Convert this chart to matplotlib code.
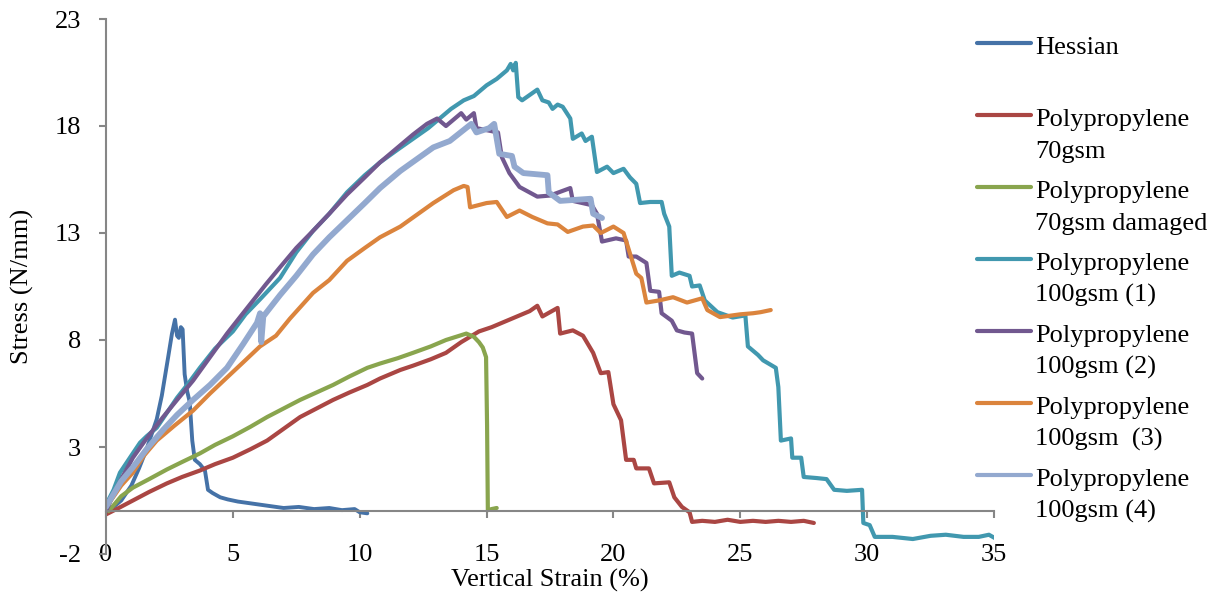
import matplotlib
matplotlib.use("Agg")
import matplotlib.pyplot as plt
from matplotlib.lines import Line2D

plt.rcParams['font.family'] = ['Liberation Serif', 'DejaVu Serif']
plt.rcParams['font.size'] = 19
plt.rcParams['axes.unicode_minus'] = False

# series (strain %, stress N/mm)
hessian_x = [0.0, 0.3, 0.6, 1.0, 1.3, 1.6, 2.0, 2.2, 2.45, 2.6, 2.72, 2.8, 2.87, 2.95, 3.02, 3.1, 3.2, 3.3,
             3.4, 3.5, 3.7, 3.9, 4.02, 4.2, 4.5, 4.8, 5.2, 5.8, 6.4, 7.0, 7.6, 8.2, 8.8, 9.3, 9.8, 10.0, 10.3]
hessian_y = [0.0, 0.2, 0.5, 1.2, 2.0, 2.9, 4.3, 5.4, 7.2, 8.3, 8.95, 8.2, 8.1, 8.6, 8.5, 6.4, 5.6, 5.1,
             3.3, 2.4, 2.2, 1.9, 1.0, 0.85, 0.65, 0.55, 0.45, 0.35, 0.25, 0.15, 0.2, 0.1, 0.15, 0.05, 0.1, -0.05, -0.1]

pp70_x = [0.0, 0.5, 1.06, 1.7, 2.4, 3.0, 3.7, 4.3, 5.0, 5.7, 6.35, 7.0, 7.65, 8.3, 8.95, 9.6, 10.3, 10.8,
          11.6, 12.1, 12.8, 13.4, 14.0, 14.7, 15.2, 15.8, 16.3, 16.7, 17.0, 17.2, 17.5, 17.8, 17.9, 18.4,
          18.8, 19.2, 19.5, 19.8, 20.0, 20.3, 20.5, 20.8, 20.9, 21.4, 21.6, 22.2, 22.4, 22.7, 23.0, 23.1,
          23.5, 24.0, 24.5, 25.0, 25.5, 26.0, 26.5, 27.0, 27.5, 27.9]
pp70_y = [-0.15, 0.15, 0.5, 0.9, 1.3, 1.6, 1.9, 2.2, 2.5, 2.9, 3.3, 3.85, 4.4, 4.8, 5.2, 5.55, 5.9, 6.2,
          6.6, 6.8, 7.1, 7.4, 7.9, 8.4, 8.6, 8.9, 9.15, 9.35, 9.6, 9.1, 9.3, 9.5, 8.3, 8.45,
          8.2, 7.4, 6.45, 6.5, 5.0, 4.25, 2.4, 2.4, 2.0, 2.0, 1.3, 1.35, 0.65, 0.2, -0.05, -0.5,
          -0.45, -0.5, -0.4, -0.5, -0.45, -0.5, -0.45, -0.5, -0.45, -0.55]

pp70d_x = [0.1, 0.28, 0.6, 1.06, 1.7, 2.4, 3.0, 3.7, 4.3, 5.0, 5.7, 6.35, 7.0, 7.65, 8.3, 8.95, 9.6, 10.3,
           10.8, 11.5, 12.1, 12.8, 13.4, 13.8, 14.2, 14.5, 14.7, 14.85, 14.98, 15.02, 15.05, 15.2, 15.4]
pp70d_y = [0.0, 0.25, 0.7, 1.1, 1.5, 1.95, 2.3, 2.7, 3.1, 3.5, 3.95, 4.4, 4.8, 5.2, 5.55, 5.9, 6.3, 6.7,
           6.9, 7.15, 7.4, 7.7, 8.0, 8.15, 8.3, 8.15, 7.9, 7.65, 7.2, 4.0, 0.05, 0.1, 0.15]

pp100a_x = [0.0, 0.3, 0.55, 1.0, 1.34, 1.6, 2.0, 2.4, 2.8, 3.2, 3.7, 4.3, 5.0, 5.5, 6.07, 6.86, 7.5, 8.16,
            8.8, 9.5, 10.2, 10.8, 11.5, 12.1, 12.7, 13.2, 13.6, 14.1, 14.5, 15.0, 15.4, 15.8, 15.95, 16.05,
            16.15, 16.25, 16.4, 17.0, 17.2, 17.45, 17.6, 17.8, 18.0, 18.3, 18.4, 18.75, 18.9, 19.15, 19.35,
            19.75, 20.0, 20.4, 20.65, 20.9, 21.05, 21.45, 21.9, 22.0, 22.2, 22.3, 22.6, 23.0, 23.1, 23.4,
            23.6, 24.1, 24.7, 25.2, 25.3, 25.7, 25.9, 26.4, 26.5, 26.6, 27.0, 27.05, 27.4, 27.5, 28.0,
            28.4, 28.7, 29.2, 29.8, 29.85, 30.1, 30.3, 31.0, 31.8, 32.5, 33.1, 33.8, 34.4, 34.8, 35.1]
pp100a_y = [0.3, 1.0, 1.8, 2.6, 3.2, 3.5, 3.9, 4.6, 5.3, 5.9, 6.7, 7.6, 8.4, 9.2, 9.9, 10.9, 12.1, 13.1,
            13.9, 14.9, 15.7, 16.3, 16.9, 17.4, 17.9, 18.4, 18.8, 19.2, 19.4, 19.9, 20.2, 20.6, 20.9, 20.6,
            20.95, 19.35, 19.2, 19.7, 19.2, 19.1, 18.8, 19.0, 18.9, 18.35, 17.4, 17.65, 17.3, 17.5, 15.85,
            16.1, 15.8, 16.0, 15.6, 15.3, 14.4, 14.45, 14.45, 13.9, 13.3, 11.0, 11.15, 11.0, 10.5, 10.55,
            9.85, 9.3, 9.05, 9.15, 7.7, 7.3, 7.05, 6.7, 5.8, 3.3, 3.4, 2.5, 2.5, 1.6, 1.55,
            1.5, 1.0, 0.95, 1.0, -0.55, -0.65, -1.2, -1.2, -1.3, -1.15, -1.1, -1.2, -1.2, -1.1, -1.3]

pp100b_x = [0.0, 0.3, 0.6, 1.06, 1.6, 2.25, 2.8, 3.43, 4.1, 4.77, 5.3, 5.8, 6.3, 6.86, 7.5, 8.16, 8.8,
            9.5, 10.2, 10.8, 11.5, 12.1, 12.65, 13.05, 13.4, 14.0, 14.2, 14.5, 14.6, 15.45, 15.6, 15.9,
            16.3, 17.0, 17.5, 18.3, 18.4, 19.15, 19.35, 19.55, 20.1, 20.5, 20.6, 20.9, 21.3, 21.45, 21.8,
            21.9, 22.3, 22.5, 22.8, 23.1, 23.3, 23.5]
pp100b_y = [0.0, 0.8, 1.5, 2.5, 3.4, 4.4, 5.2, 6.1, 7.2, 8.3, 9.1, 9.85, 10.6, 11.4, 12.3, 13.1, 13.9,
            14.8, 15.6, 16.3, 17.0, 17.6, 18.1, 18.35, 18.0, 18.6, 18.3, 18.6, 17.9, 17.7, 16.55, 15.8,
            15.15, 14.7, 14.75, 15.1, 14.5, 14.3, 13.9, 12.6, 12.75, 12.65, 11.9, 11.9, 11.6, 10.3, 10.25,
            9.25, 8.9, 8.45, 8.35, 8.3, 6.45, 6.2]

pp100c_x = [0.0, 0.28, 0.6, 1.06, 1.5, 2.0, 2.7, 3.43, 4.1, 4.77, 5.4, 6.07, 6.7, 7.25, 8.16, 8.8, 9.5,
            10.2, 10.8, 11.6, 12.9, 13.7, 14.1, 14.25, 14.35, 15.0, 15.4, 15.8, 16.3, 16.8, 17.4, 17.8,
            18.2, 18.8, 19.2, 19.5, 20.0, 20.4, 20.65, 20.9, 21.1, 21.3, 21.8, 22.35, 22.9, 23.5, 23.7,
            24.2, 25.0, 25.5, 25.8, 26.2]
pp100c_y = [0.2, 0.65, 1.2, 1.8, 2.6, 3.3, 4.0, 4.7, 5.5, 6.25, 6.95, 7.7, 8.2, 9.0, 10.2, 10.8, 11.7,
            12.3, 12.8, 13.3, 14.4, 15.0, 15.2, 15.15, 14.2, 14.4, 14.45, 13.75, 14.05, 13.75, 13.45, 13.4,
            13.05, 13.3, 13.35, 13.0, 13.3, 13.0, 12.05, 11.1, 10.9, 9.75, 9.85, 10.0, 9.75, 9.95, 9.4,
            9.07, 9.2, 9.25, 9.3, 9.4]

pp100d_x = [0.0, 0.3, 0.6, 1.06, 1.6, 2.25, 2.8, 3.43, 4.1, 4.77, 5.4, 5.95, 6.07, 6.12, 6.2, 6.86, 7.5,
            8.16, 8.8, 9.5, 10.2, 10.8, 11.6, 12.9, 13.55, 14.4, 14.6, 15.1, 15.3, 15.5, 16.0, 16.1,
            16.45, 17.4, 17.45, 17.9, 19.1, 19.2, 19.55]
pp100d_y = [0.2, 0.8, 1.4, 2.05, 2.9, 3.8, 4.5, 5.2, 5.9, 6.7, 7.8, 8.8, 9.25, 7.9, 9.1, 10.1, 11.0,
            12.0, 12.8, 13.6, 14.4, 15.1, 15.9, 17.0, 17.3, 18.1, 17.7, 17.9, 18.1, 16.7, 16.6, 16.1,
            15.8, 15.7, 14.9, 14.5, 14.6, 13.9, 13.7]

labels = ['Hessian', 'Polypropylene\n70gsm', 'Polypropylene\n70gsm damaged', 'Polypropylene\n100gsm (1)',
          'Polypropylene\n100gsm (2)', 'Polypropylene\n100gsm  (3)', 'Polypropylene\n100gsm (4)']
colors = ['#4572A7', '#AA4643', '#89A54E', '#4198AF', '#71588F', '#DB843D', '#93A9CF']
widths = [2.8, 3.0, 3.0, 3.0, 3.0, 3.0, 4.2]
series = [(hessian_x, hessian_y), (pp70_x, pp70_y), (pp70d_x, pp70d_y), (pp100a_x, pp100a_y),
          (pp100b_x, pp100b_y), (pp100c_x, pp100c_y), (pp100d_x, pp100d_y)]

x_ticks = [0, 5, 10, 15, 20, 25, 30, 35]
y_ticks = [-2, 3, 8, 13, 18, 23]

fig = plt.figure(figsize=(12.17, 5.92), dpi=100)
ax = fig.add_axes([106 / 1217, 38 / 592, 888 / 1217, 535 / 592])

for (xs, ys), c, w in zip(series, colors, widths):
    ax.plot(xs, ys, color=c, lw=w, solid_joinstyle='round', solid_capstyle='round')

ax.set_xlim(0, 35)
ax.set_ylim(-2, 23)
ax.set_yticks(y_ticks)
ax.set_xticks(x_ticks)

grey = '#868686'
for s in ['top', 'right']:
    ax.spines[s].set_visible(False)
ax.spines['left'].set_color(grey)
ax.spines['left'].set_linewidth(1.5)
ax.spines['bottom'].set_position(('data', 0))
ax.spines['bottom'].set_color(grey)
ax.spines['bottom'].set_linewidth(1.5)
ax.tick_params(axis='y', direction='out', length=5, width=1.5, color=grey, pad=13, labelsize=19)
ax.tick_params(axis='x', direction='out', length=5, width=1.5, color=grey, labelbottom=False)

# tick labels sit at the bottom of the plot, not on the zero line
sec = ax.secondary_xaxis('bottom')
sec.set_xticks(x_ticks)
sec.spines['bottom'].set_visible(False)
sec.tick_params(length=0, pad=-7, labelsize=19)

ax.set_ylabel('Stress (N/mm)', fontsize=19)
ax.yaxis.label.set_va('center')
ax.yaxis.set_label_coords(-84 / 888, 0.5)
ax.set_xlabel('Vertical Strain (%)', fontsize=19)
ax.xaxis.label.set_va('baseline')
ax.xaxis.set_label_coords(0.5, -33 / 535)

# legend drawn by hand: handle on the first line of each label
for i, (lab, c) in enumerate(zip(labels, colors)):
    base = 54 + 72 * i
    hy = 1 - (base - 11) / 592
    fig.add_artist(Line2D([977 / 1217, 1031 / 1217], [hy, hy], color=c, lw=3.0,
                          solid_capstyle='round', transform=fig.transFigure))
    for j, line in enumerate(lab.split('\n')):
        fig.text(1035 / 1217, 1 - (base + 32 * j) / 592, line, fontsize=19,
                 ha='left', va='baseline')

fig.savefig('out.png', dpi=100)
